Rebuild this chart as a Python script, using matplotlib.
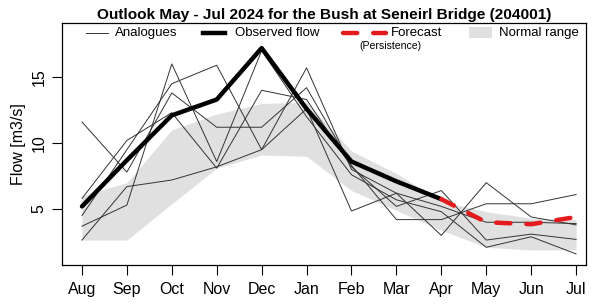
import matplotlib
matplotlib.use("Agg")
import matplotlib.pyplot as plt
from matplotlib.lines import Line2D
from matplotlib.patches import Rectangle

plt.rcParams['font.family'] = ['Liberation Sans', 'DejaVu Sans']

months = ["Aug", "Sep", "Oct", "Nov", "Dec", "Jan", "Feb", "Mar", "Apr", "May", "Jun", "Jul"]

observed = [5.2, 8.7, 12.1, 13.3, 17.2, 12.6, 8.6, 7.1, 5.75]
forecast_months = ["Apr", "May", "Jun", "Jul"]
forecast = [5.75, 4.0, 3.85, 4.4]

normal_low = [2.65, 2.65, 5.4, 8.1, 9.1, 9.0, 6.4, 4.9, 3.4, 2.1, 1.9, 1.9]
normal_high = [6.0, 7.0, 11.0, 12.2, 13.0, 13.1, 9.4, 7.7, 5.6, 4.8, 4.3, 4.2]

analogue_1 = [11.6, 7.8, 13.8, 11.2, 11.2, 14.2, 8.3, 4.2, 4.2, 5.4, 5.4, 6.1]
analogue_2 = [2.65, 6.7, 7.2, 8.2, 9.5, 12.6, 4.85, 6.2, 3.0, 7.0, 4.4, 3.8]
analogue_3 = [3.7, 5.3, 16.0, 8.6, 17.0, 12.0, 7.6, 5.7, 4.8, 2.1, 2.9, 1.6]
analogue_4 = [4.5, 9.5, 14.5, 15.9, 9.5, 15.7, 8.0, 6.2, 5.2, 4.0, 4.0, 3.9]
analogue_5 = [5.8, 10.2, 12.3, 8.1, 14.0, 13.3, 8.2, 5.2, 6.4, 2.65, 3.1, 2.7]
analogues = [analogue_1, analogue_2, analogue_3, analogue_4, analogue_5]

title = "Outlook May - Jul 2024 for the Bush at Seneirl Bridge (204001)"

W, H = 596, 304
fig = plt.figure(figsize=(W / 100, H / 100), dpi=100)
L, R, T, B = 62, 586, 23, 265
ax = fig.add_axes([L / W, 1 - B / H, (R - L) / W, (B - T) / H])

x = list(range(len(months)))
ax.fill_between(x, normal_low, normal_high, color="#e0e0e0", linewidth=0, zorder=1)
for a in analogues:
    ax.plot(x, a, color="#333333", linewidth=0.7, zorder=2)
ax.plot(x[:len(observed)], observed, color="black", linewidth=3.2,
        solid_capstyle="round", zorder=3)
fx = [months.index(m) for m in forecast_months]
ax.plot(fx, forecast, color="#e41a1c", linewidth=3.2, dashes=(3.2, 3.6),
        dash_capstyle="round", zorder=4)

ax.set_xlim(-0.444, 11.22)
ax.set_ylim(0.76, 19.1)
ax.set_xticks(x)
ax.set_xticklabels(months, fontsize=11.5)
ax.set_yticks([5, 10, 15])
ax.set_yticklabels(["5", "10", "15"], fontsize=11.5, rotation=90, va="center")
ax.tick_params(axis="both", direction="out", length=7.2, width=0.8, pad=5)
ax.tick_params(axis="y", pad=4)
ax.set_ylabel("Flow [m3/s]", fontsize=11.5, labelpad=4)
for s in ax.spines.values():
    s.set_linewidth(0.9)

ax.set_title(title, fontsize=11.1, fontweight="bold", pad=3)

def axx(px):
    return (px - L) / (R - L)

def axy(py):
    return (B - py) / (B - T)

ly = axy(33)
fs = 9.5
ax.add_line(Line2D([axx(86), axx(108)], [ly, ly], transform=ax.transAxes,
                   color="#333333", linewidth=0.7))
ax.text(axx(115), ly, "Analogues", transform=ax.transAxes, fontsize=fs, va="center")
ax.add_line(Line2D([axx(203), axx(225)], [ly, ly], transform=ax.transAxes,
                   color="black", linewidth=3.2))
ax.text(axx(235), ly, "Observed flow", transform=ax.transAxes, fontsize=fs, va="center")
ax.add_line(Line2D([axx(343), axx(386)], [ly, ly], transform=ax.transAxes,
                   color="#e41a1c", linewidth=3.2, dashes=(3.2, 3.6),
                   dash_capstyle="round"))
ax.text(axx(391), ly, "Forecast", transform=ax.transAxes, fontsize=fs, va="center")
ax.text(axx(390), axy(46), "(Persistence)", transform=ax.transAxes, fontsize=7.6,
        va="center", ha="center")
ax.add_patch(Rectangle((axx(469), axy(38)), axx(492) - axx(469), axy(27) - axy(38),
                       transform=ax.transAxes, color="#e0e0e0", linewidth=0))
ax.text(axx(499), axy(33), "Normal range", transform=ax.transAxes, fontsize=fs, va="center")

fig.savefig("out.png", dpi=100)
